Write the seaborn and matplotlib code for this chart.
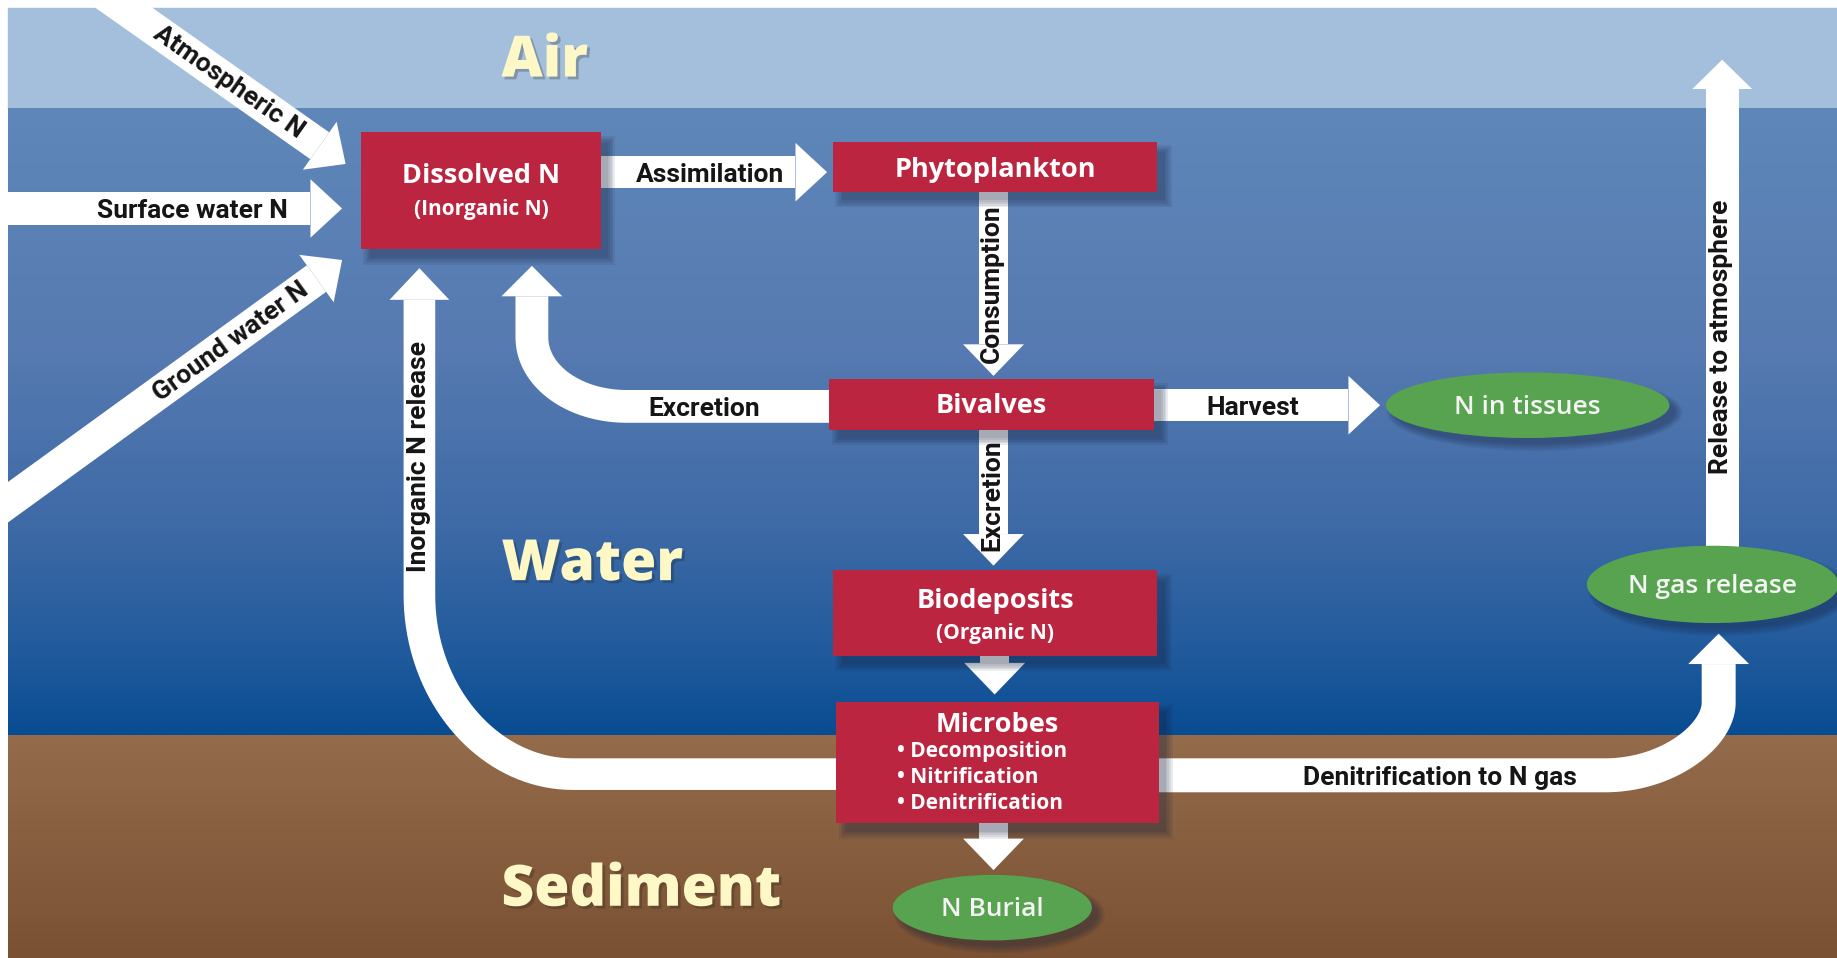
import numpy as np
import matplotlib
matplotlib.use("Agg")
import matplotlib.pyplot as plt
import matplotlib.patheffects as pe
from matplotlib import font_manager
from matplotlib.patches import Rectangle, Ellipse, Polygon
import seaborn as sns

sns.set_theme(style="white")
plt.rcParams['font.family'] = ['Open Sans', 'DejaVu Sans']

installed = {f.name for f in font_manager.fontManager.ttflist}
NARROW = 'Liberation Sans Narrow' if 'Liberation Sans Narrow' in installed else 'Roboto'

# texts of the diagram
zone_labels = ["Air", "Water", "Sediment"]
box_titles = ["Dissolved N", "Phytoplankton", "Bivalves", "Biodeposits", "Microbes"]
box_subtitles = ["(Inorganic N)", "", "", "(Organic N)", ""]
microbe_steps = ["Decomposition", "Nitrification", "Denitrification"]
sink_labels = ["N in tissues", "N gas release", "N Burial"]
inflow_labels = ["Atmospheric N", "Surface water N", "Ground water N"]
flow_labels = ["Assimilation", "Consumption", "Excretion", "Excretion", "Harvest",
               "Inorganic N release", "Denitrification to N gas", "Release to atmosphere"]

# scene is laid out in a 1568 x 818 grid
W, H = 1568, 818
RED = '#bc2540'
GREEN = '#58a350'
CREAM = '#fdf8c6'
SHADE = '#17223f'

fig = plt.figure(figsize=(18.37, 9.58), dpi=100)
fig.patch.set_facecolor('white')
ax = fig.add_axes([0, 0, 1, 1])
ax.axis('off')


def vgrad(y0, y1, stops, cols):
    ys = np.linspace(y0, y1, 400)
    c = np.array(cols) / 255.0
    img = np.stack([np.interp(ys, stops, c[:, i]) for i in range(3)], axis=1)
    ax.imshow(img[:, None, :], extent=[7, W, y1, y0], aspect='auto',
              zorder=0, interpolation='bilinear')


# background: air, water, sediment
ax.add_patch(Rectangle((7, 7), W - 7, 86, color='#a3bfdc', zorder=0))
vgrad(93, 628, [93, 300, 450, 560, 628],
      [(95, 135, 185), (86, 122, 177), (62, 106, 166), (32, 90, 156), (8, 76, 146)])
vgrad(628, H, [628, H], [(148, 108, 76), (122, 81, 50)])


def bezier(p0, p1, p2, p3, n=40):
    t = np.linspace(0, 1, n)[:, None]
    p0, p1, p2, p3 = map(np.asarray, (p0, p1, p2, p3))
    return ((1 - t) ** 3) * p0 + 3 * ((1 - t) ** 2) * t * p1 + 3 * (1 - t) * t ** 2 * p2 + t ** 3 * p3


def band(pts, w):
    d = np.gradient(pts, axis=0)
    d /= np.linalg.norm(d, axis=1)[:, None]
    nrm = np.c_[-d[:, 1], d[:, 0]]
    return np.vstack([pts + nrm * w / 2, (pts - nrm * w / 2)[::-1]])


def draw_arrow(pts, w=28, hw=50, hl=27):
    pts = np.asarray(pts, float)
    ax.add_patch(Polygon(band(pts, w), closed=True, fc='white', ec='none', zorder=3))
    d = pts[-1] - pts[-2]
    d /= np.linalg.norm(d)
    n = np.array([-d[1], d[0]])
    end = pts[-1]
    head = [end + n * hw / 2, end + d * hl, end - n * hw / 2]
    ax.add_patch(Polygon(head, closed=True, fc='white', ec='none', zorder=3))


def straight(tail, tip, w=28, hw=50, hl=27):
    tail, tip = np.asarray(tail, float), np.asarray(tip, float)
    d = (tip - tail) / np.linalg.norm(tip - tail)
    draw_arrow([tail, tip - d * hl], w, hw, hl)


# straight arrows
straight((75, -15), (295, 140))
straight((0, 178), (292, 178))
straight((-10, 441), (292, 222))
straight((513, 147), (706, 147), w=27)
straight((848, 164), (848, 321), w=25, hw=52)
straight((848, 367), (848, 483), w=25, hw=52)
straight((985, 346), (1178, 346), w=27)
straight((849, 560), (849, 593), w=25, hw=52)
straight((848, 703), (848, 743), w=25, hw=52)
straight((1470, 470), (1470, 51), w=28, hw=51, hl=25)

# curved arrows
excr = np.vstack([[(708, 347)],
                  bezier((535, 347), (490, 347), (454, 321), (454, 288)),
                  [(454, 253)]])
draw_arrow(excr, w=28, hw=52, hl=26)

inorg = np.vstack([[(714, 661)],
                   bezier((489, 661), (417, 661), (358, 592), (358, 508)),
                   [(358, 256)]])
draw_arrow(inorg, w=27, hw=51, hl=27)

denit = np.vstack([[(989, 662)],
                   bezier((1370, 662), (1424, 662), (1467, 628), (1467, 600)),
                   [(1467, 567)]])
draw_arrow(denit, w=29, hw=52, hl=26)


def shadow(patch_fn, dx=7, dy=8):
    for e in [5, 3.5, 2, 0.5, -1]:
        ax.add_patch(patch_fn(dx, dy, e))


# red boxes
box_geom = [(308, 113, 513, 213), (711, 121, 988, 164), (708, 324, 985, 367),
            (711, 487, 988, 560), (714, 599, 989, 703)]
title_y = [147, 142, 344, 510, 616]
sub_y = [177, 0, 0, 539, 0]

for (x0, y0, x1, y1), t, s, ty, sy in zip(box_geom, box_titles, box_subtitles, title_y, sub_y):
    shadow(lambda dx, dy, e: Rectangle((x0 + dx - e, y0 + dy - e), x1 - x0 + 2 * e, y1 - y0 + 2 * e,
                                       fc=SHADE, ec='none', alpha=0.09, zorder=4))
    ax.add_patch(Rectangle((x0, y0), x1 - x0, y1 - y0, fc=RED, ec='none', zorder=5))
    ax.text((x0 + x1) / 2, ty + 3, t, ha='center', va='center', color='white',
            fontsize=19.5, weight='bold', zorder=10)
    if s:
        ax.text((x0 + x1) / 2, sy + 2, s, ha='center', va='center', color='white',
                fontsize=15, weight='bold', zorder=10)

for i, step in enumerate(microbe_steps):
    ax.text(766, 642 + 22 * i, "\u2022 " + step, ha='left', va='center', color='white',
            fontsize=15, weight='bold', zorder=10)

# green sinks
ell_geom = [(1304, 346, 242, 56), (1462, 499, 215, 66), (847, 775, 170, 56)]
for (cx, cy, ew, eh), s in zip(ell_geom, sink_labels):
    shadow(lambda dx, dy, e: Ellipse((cx + dx, cy + dy), ew + 2 * e, eh + 2 * e,
                                     fc=SHADE, ec='none', alpha=0.09, zorder=4), dx=6, dy=6)
    ax.add_patch(Ellipse((cx, cy), ew, eh, fc=GREEN, ec='none', zorder=5))
    ax.text(cx, cy + 2, s, ha='center', va='center', color='#f4f4f4',
            fontsize=19, weight='semibold', zorder=10)


# arrow labels
def flow_text(x, y, s, rot=0, size=19):
    ax.text(x, y, s, ha='center', va='center', rotation=rot, rotation_mode='anchor',
            fontsize=size, color='#151515', family=[NARROW, 'DejaVu Sans'],
            weight='bold', zorder=10)


flow_text(195, 70, inflow_labels[0], rot=-35)
flow_text(164, 180, inflow_labels[1])
flow_text(197, 292, inflow_labels[2], rot=36)
flow_text(606, 149, flow_labels[0])
flow_text(847, 242, flow_labels[1], rot=90)
flow_text(601, 349, flow_labels[2])
flow_text(847, 423, flow_labels[3], rot=90)
flow_text(1069, 348, flow_labels[4])
flow_text(358, 390, flow_labels[5], rot=90)
flow_text(1229, 664, flow_labels[6])
flow_text(1469, 288, flow_labels[7], rot=90)

# zone names
zone_xy = [(428, 53), (428, 483), (428, 761)]
for (x, y), s in zip(zone_xy, zone_labels):
    ax.text(x, y, s, ha='left', va='center', color=CREAM, fontsize=41, weight='heavy', zorder=10,
            path_effects=[pe.SimplePatchShadow(offset=(2, -2), shadow_rgbFace='k', alpha=0.25),
                          pe.Normal()])

ax.set_xlim(0, W)
ax.set_ylim(H, 0)
fig.savefig("out.png", dpi=100, facecolor='white')
